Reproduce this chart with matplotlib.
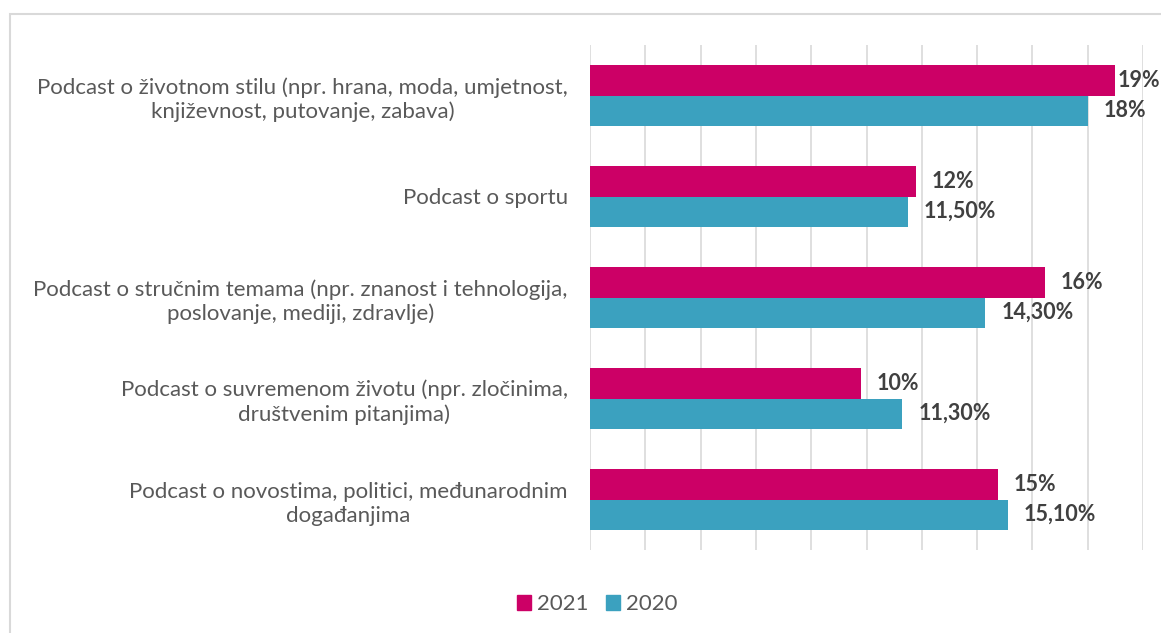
import numpy as np
import matplotlib.pyplot as plt
from matplotlib.patches import Rectangle, Patch

# podaci s grafa (duljine stupaca očitane sa slike, oznake kako su napisane)
kategorije = [
    'Podcast o životnom stilu (npr. hrana, moda, umjetnost,\nknjiževnost, putovanje, zabava)',
    'Podcast o sportu',
    'Podcast o stručnim temama (npr. znanost i tehnologija,\nposlovanje, mediji, zdravlje)',
    'Podcast o suvremenom životu (npr. zločinima,\ndruštvenim pitanjima)',
    'Podcast o novostima, politici, međunarodnim\ndogađanjima',
]
v2021 = [19.0, 11.8, 16.45, 9.8, 14.75]
v2020 = [18, 11.5, 14.3, 11.3, 15.1]
lab2021 = ['19%', '12%', '16%', '10%', '15%']
lab2020 = ['18%', '11,50%', '14,30%', '11,30%', '15,10%']

c21 = '#CC0066'
c20 = '#3BA1BF'
txt = '#595959'

plt.rcParams['font.family'] = ['Lato', 'DejaVu Sans']

fig = plt.figure(figsize=(11.61, 6.33), dpi=100)
ax = fig.add_axes([590/1161, 1-550/633, (1143-590)/1161, (550-45)/633])

# okvir grafa
fig.patches.append(Rectangle((10/1161, -0.1), 1.2, 1-14/633+0.1, transform=fig.transFigure,
                             fill=False, edgecolor='#D9D9D9', lw=1.5))

y = np.arange(len(kategorije))
h = 0.3
ax.barh(y - h/2, v2021, height=h, color=c21, label='2021', zorder=2)
ax.barh(y + h/2, v2020, height=h, color=c20, label='2020', zorder=2)

for i in range(len(kategorije)):
    off = 0.08 if v2021[i] >= 19 else 0.57
    ax.text(v2021[i] + off, y[i] - h/2, lab2021[i], va='center', ha='left',
            fontsize=15.5, fontweight='bold', color='#404040', clip_on=False)
    ax.text(v2020[i] + 0.57, y[i] + h/2, lab2020[i], va='center', ha='left',
            fontsize=15.5, fontweight='bold', color='#404040', clip_on=False)

ax.set_xlim(0, 20)
ax.set_ylim(len(kategorije) - 0.5, -0.5)
ax.set_xticks(np.arange(0, 21, 2))
ax.set_xticklabels([])
ax.tick_params(length=0)
ax.grid(axis='x', color='#D9D9D9', lw=1.2, zorder=0)
for s in ax.spines.values():
    s.set_visible(False)

ax.set_yticks(y)
ax.set_yticklabels(kategorije, fontsize=16, color=txt, multialignment='center', linespacing=1.25)
ax.tick_params(axis='y', pad=16)

leg = fig.legend(handles=[Patch(color=c21, label='2021'), Patch(color=c20, label='2020')],
                 loc='center', bbox_to_anchor=(597/1161, 1-604/633), ncol=2, frameon=False,
                 fontsize=16, handlelength=0.65, handleheight=0.65, handletextpad=0.25,
                 columnspacing=0.8)
for t in leg.get_texts():
    t.set_color(txt)

plt.savefig('out.png', dpi=100)
